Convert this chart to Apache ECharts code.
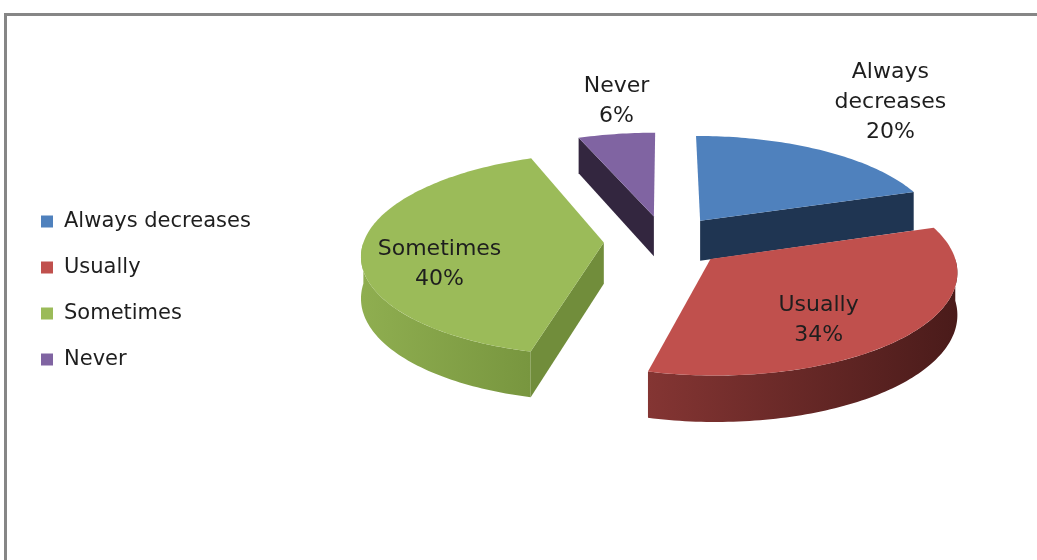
<!DOCTYPE html>
<html>
<head>
<meta charset="utf-8">
<script src="https://cdn.jsdelivr.net/npm/echarts@6/dist/echarts.min.js"></script>
<style>
  html, body { margin: 0; padding: 0; background: #ffffff; }
  #chart { width: 1037px; height: 560px; }
</style>
</head>
<body>
<div id="chart"></div>
<script>
// Survey answers and their shares (percent)
const categories = ['Always decreases', 'Usually', 'Sometimes', 'Never'];
const shares = [20, 34, 40, 6];

// Face colours for each slice: top face, rim (left -> right shading), cut face
const faceColors = [
  { top: '#4f81bd', rim: ['#2d4b72', '#1f3552'], cut: '#1f3552' },
  { top: '#c0504d', rim: ['#843533', '#4a1b1a'], cut: '#5a2220' },
  { top: '#9bbb59', rim: ['#8fae50', '#78963f'], cut: '#718d3b' },
  { top: '#8064a2', rim: ['#4a3a5e', '#33263f'], cut: '#33263f' }
];

// Where an inside label sits along the slice's middle radius (0 = tip, 1 = rim)
const insideLabelRadius = [0.6, 0.57, 0.68, 0.6];

// Geometry of the tilted, exploded pie
const PIE = { cx: 665, cy: 241, rx: 240, ry: 101, persp: 0.114, depth: 41, explode: 0.255 };
const FONT = 'DejaVu Sans';
const FONT_SIZE = 22;
const TEXT_COLOR = '#1e1e1e';

const total = shares.reduce((a, b) => a + b, 0);
const starts = [];
shares.reduce((acc, v) => { starts.push(acc); return acc + v; }, 0);

const measureCtx = document.createElement('canvas').getContext('2d');
measureCtx.font = FONT_SIZE + 'px "' + FONT + '"';
function textWidth(lines) {
  return Math.max.apply(null, lines.map(l => measureCtx.measureText(l).width));
}

// disk coordinates (u east, v north) -> screen, with a mild perspective
function project(u, v, down) {
  const s = 1 - PIE.persp * v;
  return [PIE.cx + PIE.rx * u * s, PIE.cy - PIE.ry * v * s + (down ? PIE.depth * s : 0)];
}

function arcPoints(ou, ov, a0, a1, down) {
  const n = Math.max(2, Math.ceil((a1 - a0) / 0.02));
  const pts = [];
  for (let k = 0; k <= n; k++) {
    const t = a0 + (a1 - a0) * k / n;
    pts.push(project(ou + Math.sin(t), ov + Math.cos(t), down));
  }
  return pts;
}

function renderSlice(idx) {
  return function (params, api) {
    const value = api.value(0);
    const a0 = 2 * Math.PI * starts[idx] / total;
    const a1 = a0 + 2 * Math.PI * value / total;
    const m = (a0 + a1) / 2;
    const ou = PIE.explode * Math.sin(m);
    const ov = PIE.explode * Math.cos(m);
    const col = faceColors[idx];
    const children = [];

    // outer rim on the near half
    const r0 = Math.max(a0, Math.PI / 2);
    const r1 = Math.min(a1, 3 * Math.PI / 2);
    if (r1 > r0) {
      const topArc = arcPoints(ou, ov, r0, r1, false);
      const botArc = arcPoints(ou, ov, r0, r1, true).reverse();
      children.push({
        type: 'polygon',
        shape: { points: topArc.concat(botArc) },
        style: {
          fill: new echarts.graphic.LinearGradient(0, 0, 1, 0, [
            { offset: 0, color: col.rim[0] },
            { offset: 1, color: col.rim[1] }
          ])
        },
        z2: 1
      });
    }

    // cut faces along the radii that turn toward the viewer
    const cutFace = (a) => ({
      type: 'polygon',
      shape: {
        points: [
          project(ou, ov, false),
          project(ou + Math.sin(a), ov + Math.cos(a), false),
          project(ou + Math.sin(a), ov + Math.cos(a), true),
          project(ou, ov, true)
        ]
      },
      style: { fill: col.cut },
      z2: 1
    });
    if (Math.sin(a0) < -1e-6) children.push(cutFace(a0));
    if (Math.sin(a1) > 1e-6) children.push(cutFace(a1));

    // top face
    children.push({
      type: 'polygon',
      shape: { points: [project(ou, ov, false)].concat(arcPoints(ou, ov, a0, a1, false)) },
      style: { fill: col.top },
      z2: 2
    });

    // data label: category and percentage
    const pct = Math.round(value / total * 100) + '%';
    const inside = value / total > 0.25;
    let lines, x, y, vAlign;
    if (inside) {
      lines = [categories[idx], pct];
      const f = insideLabelRadius[idx];
      const p = project(ou + f * Math.sin(m), ov + f * Math.cos(m), false);
      const s = 1 - PIE.persp * (ov + f * Math.cos(m));
      x = p[0];
      y = p[1] + PIE.depth * s * 0.42;
      vAlign = 'middle';
    } else {
      lines = categories[idx].split(' ').concat([pct]);
      const p = project(ou + Math.sin(m), ov + Math.cos(m), false);
      const half = textWidth(lines) / 2;
      const sm = Math.sin(m);
      x = p[0] + (Math.abs(sm) > 0.3 ? Math.sign(sm) * (13 + half) : 0);
      y = p[1] - 3;
      vAlign = 'bottom';
    }
    children.push({
      type: 'text',
      x: x,
      y: y,
      style: {
        text: lines.join('\n'),
        fontFamily: FONT,
        fontSize: FONT_SIZE,
        lineHeight: 30,
        fill: TEXT_COLOR,
        align: 'center',
        verticalAlign: vAlign
      },
      z2: 3
    });

    return { type: 'group', children: children };
  };
}

// back slices first, near slices last
const depthOf = (i) => Math.cos(2 * Math.PI * (starts[i] + shares[i] / 2) / total);
const order = categories.map((_, i) => i).sort((a, b) => depthOf(b) - depthOf(a));

const chart = echarts.init(document.getElementById('chart'), null, { renderer: 'canvas' });
chart.setOption({
  animation: false,
  backgroundColor: '#ffffff',
  color: faceColors.map(c => c.top),
  graphic: [{
    type: 'rect',
    shape: { x: 5.5, y: 14.5, width: 1100, height: 600 },
    style: { fill: 'none', stroke: '#868686', lineWidth: 3 },
    silent: true
  }],
  legend: {
    orient: 'vertical',
    left: 36,
    top: 205,
    itemWidth: 12,
    itemHeight: 12,
    itemGap: 23,
    icon: 'rect',
    selectedMode: false,
    data: categories,
    textStyle: { fontFamily: FONT, fontSize: 21, color: TEXT_COLOR, lineHeight: 23, padding: [0, 0, 0, 6] }
  },
  series: categories.map((name, i) => ({
    type: 'custom',
    name: name,
    coordinateSystem: 'none',
    z: 2 + order.indexOf(i),
    itemStyle: { color: faceColors[i].top },
    renderItem: renderSlice(i),
    data: [[shares[i]]]
  }))
});
</script>
</body>
</html>
